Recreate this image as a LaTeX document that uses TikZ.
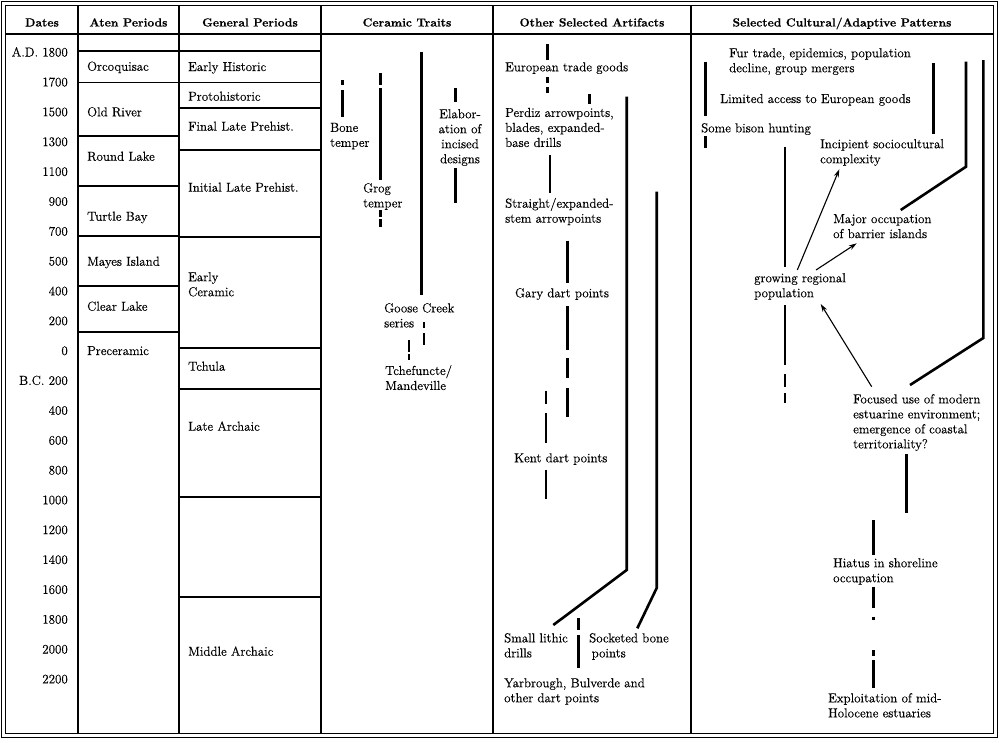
\documentclass[tikz,border=0pt]{standalone}
\usepackage{fontspec}
\newfontfamily\bodyfont{Latin Modern Roman}[FakeBold=0.4]
\newfontfamily\hdrfont{lmroman10-bold.otf}[FakeBold=0.3]
\usetikzlibrary{arrows.meta}
\tikzset{
  grid/.style={line width=1.6pt},
  frame/.style={line width=1.4pt},
  bar/.style={line width=2.6pt},
  arr/.style={line width=1.1pt,-{Stealth[length=8pt,width=5pt]}},
  txt/.style={font=\bodyfont\fontsize{13}{15}\selectfont, inner sep=0pt, align=left},
  cell/.style={txt, anchor=base west},
  blk/.style={txt, anchor=north west},
  hdr/.style={font=\hdrfont\fontsize{11.8}{14}\selectfont, inner sep=0pt, anchor=base},
  datelab/.style={txt, anchor=base east}
}
\begin{document}
\begin{tikzpicture}[x=1pt,y=-1pt]
\useasboundingbox (0,0) rectangle (1000,742);
% frame
\draw[frame] (1.5,1.5) rectangle (997.5,737.5);
\draw[grid] (5.5,5.5) rectangle (993.5,733.5);
\draw[grid] (5.5,34) -- (993.5,34);
\foreach \x in {78,179,321,493,691} \draw[grid] (\x,5.5) -- (\x,733.5);
% Aten period lines
\foreach \y in {50.7,82.3,136,185.7,236,286,332} \draw[grid] (78,\y) -- (179,\y);
% General period lines
\foreach \y in {50.7,82.3,107.7,150,236.7,347.7,389,496.7,597} \draw[grid] (179,\y) -- (321,\y);
% headers
\node[hdr] (h1) at (42,26.5) {Dates};
\node[hdr] (h2) at (128.5,26.5) {Aten Periods};
\node[hdr] (h3) at (250,26.5) {General Periods};
\node[hdr] (h4) at (407,26.5) {Ceramic Traits};
\node[hdr] (h5) at (592,26.5) {Other Selected Artifacts};
\node[hdr] (h6) at (842,26.5) {Selected Cultural/Adaptive Patterns};
% dates
\foreach \lab [count=\k from 0] in {A.D. 1800,1700,1500,1300,1100,900,700,500,400,200,0,B.C. 200,400,600,800,1000,1200,1400,1600,1800,2000,2200}
  \node[datelab] (d\k) at (68,{56.5+29.85*\k}) {\lab};
% Aten periods
\node[cell] (a1) at (87,70.7) {Orcoquisac};
\node[cell] (a2) at (87,116.3) {Old River};
\node[cell] (a3) at (87,160.7) {Round Lake};
\node[cell] (a4) at (87,220.7) {Turtle Bay};
\node[cell] (a5) at (87,265.7) {Mayes Island};
\node[cell] (a6) at (87,310.7) {Clear Lake};
\node[cell] (a7) at (87,355) {Preceramic};
% General periods
\node[cell] (g1) at (188,71) {Early Historic};
\node[cell] (g2) at (188,100.7) {Protohistoric};
\node[cell] (g3) at (188,130.7) {Final Late Prehist.};
\node[cell] (g4) at (188,191.7) {Initial Late Prehist.};
\node[blk] (g5) at (188,272) {Early\\Ceramic};
\node[cell] (g6) at (188,370.7) {Tchula};
\node[cell] (g7) at (188,430.7) {Late Archaic};
\node[cell] (g8) at (188,655.7) {Middle Archaic};
% Ceramic traits
\node[blk] (c1) at (330,122.7) {Bone\\temper};
\node[blk] (c2) at (363,183) {Grog\\temper};
\node[blk] (c3) at (384,303) {Goose Creek\\series};
\node[blk] (c4) at (385,365) {Tchefuncte/\\Mandeville};
\node[txt, anchor=north, align=center] (c5) at (460,109) {Elabor-\\ation of\\incised\\designs};
\draw[bar] (342.7,80) -- (342.7,85) (342.7,90) -- (342.7,117);
\draw[bar] (380.3,73) -- (380.3,85) (380.3,88) -- (380.3,180)
           (380.3,210) -- (380.3,217) (380.3,219) -- (380.3,227);
\draw[bar] (421.7,51.7) -- (421.7,295);
\draw[bar] (424,322) -- (424,328) (424,333) -- (424,345);
\draw[bar] (409,340) -- (409,352) (409,354) -- (409,360);
\draw[bar] (455.7,88) -- (455.7,102) (455.7,168) -- (455.7,203);
% Other selected artifacts
\node[cell] (o1) at (505,71.3) {European trade goods};
\node[blk] (o2) at (505,107.7) {Perdiz arrowpoints,\\blades, expanded-\\base drills};
\node[blk] (o3) at (505,197.7) {Straight/expanded-\\stem arrowpoints};
\node[txt, anchor=base] (o4) at (562,297.3) {Gary dart points};
\node[cell] (o5) at (514,462.3) {Kent dart points};
\node[blk] (o6) at (504,633) {Small lithic\\drills};
\node[blk] (o7) at (589,633) {Socketed bone\\\hspace*{2.5pt}points};
\node[blk] (o8) at (504,678) {Yarbrough, Bulverde and\\other dart points};
\draw[bar] (547.3,44) -- (547.3,60) (547.3,76.7) -- (547.3,83.3) (547.3,87) -- (547.3,93);
\draw[bar] (589.3,94) -- (589.3,104);
\draw[bar] (550,155) -- (550,192.7);
\draw[bar] (626.7,96.7) -- (626.7,570) -- (553.3,625);
\draw[bar] (656.7,191.7) -- (656.7,588) -- (637.3,628.3);
\draw[bar] (567.5,240.7) -- (567.5,282.7) (567.5,306) -- (567.5,350)
           (567.5,358.3) -- (567.5,378.3) (567.5,388.3) -- (567.5,416.7);
\draw[bar] (546,390.7) -- (546,404) (546,413.3) -- (546,443.3) (546,470) -- (546,499);
\draw[bar] (578.3,618.3) -- (578.3,630) (578.3,635) -- (578.3,668.3);
% Selected cultural/adaptive patterns
\node[blk] (s1) at (729,48) {Fur trade, epidemics, population\\decline, group mergers};
\node[cell] (s2) at (720,103) {Limited access to European goods};
\node[cell] (s3) at (701,132.3) {Some bison hunting};
\node[blk] (s4) at (820,139) {Incipient sociocultural\\complexity};
\node[blk] (s5) at (833,214) {Major occupation\\of barrier islands};
\node[blk] (s6) at (754,273) {growing regional\\population};
\node[blk] (s7) at (853,394) {Focused use of modern\\estuarine environment;\\emergence of coastal\\territoriality?};
\node[blk] (s8) at (833,558) {Hiatus in shoreline\\occupation};
\node[blk] (s9) at (828,693) {Exploitation of mid-\\Holocene estuaries};
\draw[bar] (705.7,61.7) -- (705.7,116) (705.7,136) -- (705.7,148);
\draw[bar] (933.3,63.3) -- (933.3,134);
\draw[bar] (966,61.7) -- (966,166.7) -- (900.7,210);
\draw[bar] (983.3,60) -- (983.3,338) -- (910,385);
\draw[bar] (785,146.7) -- (785,266.7) (785,305) -- (785,365)
           (785,374) -- (785,387.3) (785,393.3) -- (785,402.7);
\draw[bar] (906.7,454) -- (906.7,513.3);
\draw[bar] (873.3,520) -- (873.3,555) (873.3,586.7) -- (873.3,608.3)
           (873.3,616.7) -- (873.3,620) (873.3,650) -- (873.3,656) (873.3,660) -- (873.3,688.3);
% arrows
\coordinate (p1) at (797.3,270);
\coordinate (q1) at (839.3,169.3);
\coordinate (p2) at (816,270);
\coordinate (q2) at (856.7,243.3);
\coordinate (p3) at (871.7,386.7);
\coordinate (q3) at (820.7,304);
\draw[arr] (p1) -- (q1);
\draw[arr] (p2) -- (q2);
\draw[arr] (p3) -- (q3);
\end{tikzpicture}
\end{document}
